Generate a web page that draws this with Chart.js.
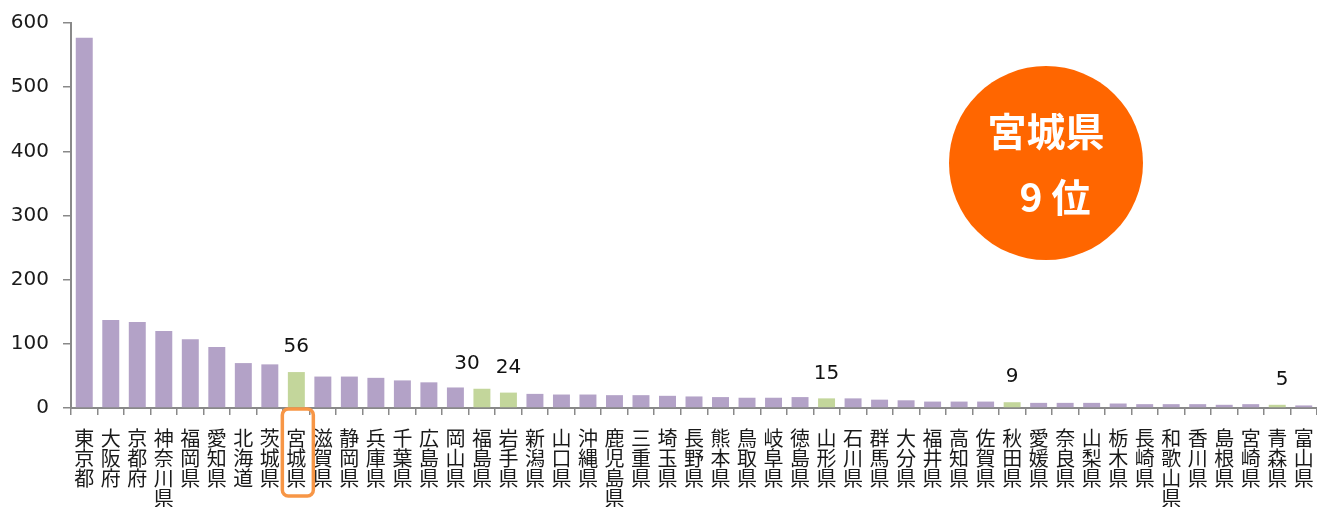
<!DOCTYPE html>
<html><head><meta charset="utf-8">
<script src="https://cdn.jsdelivr.net/npm/chart.js@4.4.0/dist/chart.umd.min.js"></script>
<style>html,body{margin:0;padding:0;background:#fff;overflow:hidden}canvas{display:block}</style>
</head><body>
<canvas id="c" width="1317" height="507"></canvas>
<script>
const categories = ["東京都","大阪府","京都府","神奈川県","福岡県","愛知県","北海道","茨城県","宮城県","滋賀県","静岡県","兵庫県","千葉県","広島県","岡山県","福島県","岩手県","新潟県","山口県","沖縄県","鹿児島県","三重県","埼玉県","長野県","熊本県","鳥取県","岐阜県","徳島県","山形県","石川県","群馬県","大分県","福井県","高知県","佐賀県","秋田県","愛媛県","奈良県","山梨県","栃木県","長崎県","和歌山県","香川県","島根県","宮崎県","青森県","富山県"];
const values = [577,137,134,120,107,95,70,68,56,49,49,47,43,40,32,30,24,22,21,21,20,20,19,18,17,16,16,17,15,15,13,12,10,10,10,9,8,8,8,7,6,6,6,5,6,5,4];
const tohoku = ["宮城県","福島県","岩手県","山形県","秋田県","青森県"];
const yTicks = [0,100,200,300,400,500,600];
const highlight = "宮城県";
const badgeLines = ["宮城県","9 位"];

const PURPLE = "#B3A2C7", GREEN = "#C3D69B", AXIS = "#898989";
const colors = categories.map(c => tohoku.includes(c) ? GREEN : PURPLE);
const labelNudge = { "福島県": -15, "青森県": 5 };

const extras = {
  id: "extras",
  afterDatasetsDraw(chart) {
    const ctx = chart.ctx;
    const meta = chart.getDatasetMeta(0);
    ctx.save();
    ctx.fillStyle = "#111";
    ctx.font = "20px 'DejaVu Sans'";
    ctx.textAlign = "center";
    ctx.textBaseline = "middle";
    categories.forEach((c, i) => {
      if (!tohoku.includes(c)) return;
      const el = meta.data[i];
      ctx.fillText(String(values[i]), el.x + (labelNudge[c] || 0), el.y - 25);
    });
    const xs = chart.scales.x;
    const hi = categories.indexOf(highlight);
    const cx = xs.getPixelForValue(hi);
    const bottom = chart.chartArea.bottom;
    ctx.strokeStyle = "#F79646";
    ctx.lineWidth = 3.5;
    ctx.beginPath();
    ctx.roundRect(cx - 14, bottom + 1, 31, 87, 6);
    ctx.stroke();
    const bx = 1046, by = 163;
    ctx.fillStyle = "#FF6600";
    ctx.beginPath();
    ctx.arc(bx, by, 97, 0, Math.PI * 2);
    ctx.fill();
    ctx.fillStyle = "#fff";
    ctx.font = "bold 39px 'Noto Sans CJK JP'";
    ctx.fillText(badgeLines[0], bx, 131);
    ctx.fillText(badgeLines[1], bx + 9, 197);
    ctx.restore();
  }
};

new Chart(document.getElementById("c"), {
  type: "bar",
  data: {
    labels: categories.map(c => c.split("")),
    datasets: [{ data: values, backgroundColor: colors, barPercentage: 0.64, categoryPercentage: 1 }]
  },
  options: {
    responsive: false,
    animation: false,
    devicePixelRatio: 1,
    layout: { padding: { top: 23, right: 0, left: 0, bottom: 0 } },
    plugins: { legend: { display: false }, tooltip: { enabled: false } },
    scales: {
      x: {
        grid: { display: true, drawOnChartArea: false, color: AXIS, tickLength: 7, lineWidth: 1.5 },
        border: { color: AXIS, width: 2 },
        ticks: { autoSkip: false, maxRotation: 0, minRotation: 0, color: "#1a1a1a", padding: 13,
                 font: { family: "'Noto Sans CJK JP'", size: 20, lineHeight: "20px" } },
        afterFit(s) { s.height = 99; s.paddingLeft = 0; s.paddingRight = 0; }
      },
      y: {
        min: 0, max: 600,
        afterBuildTicks(s) { s.ticks = yTicks.map(v => ({ value: v })); },
        grid: { display: true, drawOnChartArea: false, color: AXIS, tickLength: 8, lineWidth: 1.5 },
        border: { color: AXIS, width: 2 },
        ticks: { color: "#1a1a1a", padding: 14, font: { family: "'DejaVu Sans'", size: 20 } },
        afterFit(s) { s.width = 71; s.paddingTop = 0; s.paddingBottom = 0; }
      }
    }
  },
  plugins: [extras]
});
</script>
</body></html>
